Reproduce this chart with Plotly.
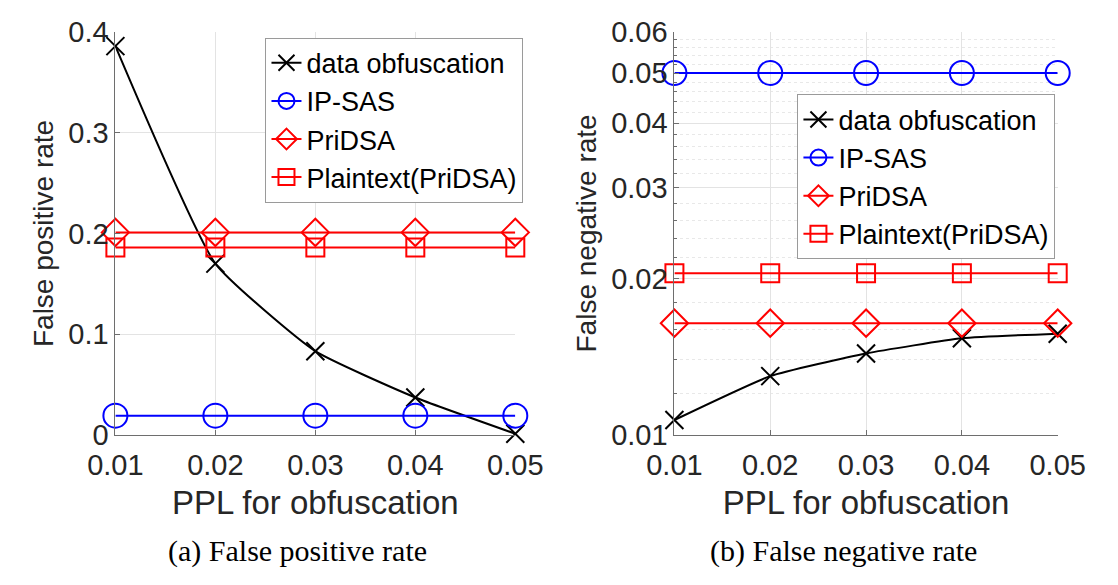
import math
import plotly.graph_objects as go

# PPL values used for obfuscation (shared x axis)
ppl = [0.01, 0.02, 0.03, 0.04, 0.05]
ppl_labels = ["0.01", "0.02", "0.03", "0.04", "0.05"]

# (a) false positive rate
fpr_obfuscation = [0.386, 0.170, 0.083, 0.037, 0.001]
fpr_ipsas = [0.019, 0.019, 0.019, 0.019, 0.019]
fpr_pridsa = [0.201, 0.201, 0.201, 0.201, 0.201]
fpr_plaintext = [0.186, 0.186, 0.186, 0.186, 0.186]
fpr_ticks = [0, 0.1, 0.2, 0.3, 0.4]
fpr_tick_labels = ["0", "0.1", "0.2", "0.3", "0.4"]

# (b) false negative rate
fnr_obfuscation = [0.01068, 0.01298, 0.01436, 0.01536, 0.01568]
fnr_ipsas = [0.050, 0.050, 0.050, 0.050, 0.050]
fnr_pridsa = [0.01643, 0.01643, 0.01643, 0.01643, 0.01643]
fnr_plaintext = [0.02052, 0.02052, 0.02052, 0.02052, 0.02052]
fnr_ticks = [0.01, 0.02, 0.03, 0.04, 0.05, 0.06]
fnr_tick_labels = ["0.01", "0.02", "0.03", "0.04", "0.05", "0.06"]
fnr_minor = [0.012, 0.014, 0.016, 0.018,
             0.022, 0.024, 0.026, 0.028,
             0.032, 0.034, 0.036, 0.038,
             0.042, 0.044, 0.046, 0.048,
             0.052, 0.054, 0.056, 0.058]

series_names = ["data obfuscation", "IP-SAS", "PriDSA", "Plaintext(PriDSA)"]

W, H = 1118, 585
SANS = "Liberation Sans, Arial, sans-serif"
SERIF = "Liberation Serif, Times New Roman, serif"

styles = [
    dict(color="#000000", symbol="x-thin-open", size=18, shape="spline"),
    dict(color="#0000ff", symbol="circle-open", size=24, shape="linear"),
    dict(color="#ff0000", symbol="diamond-open", size=21, shape="linear"),
    dict(color="#ff0000", symbol="square-open", size=18, shape="linear"),
]

fig = go.Figure()


def add_panel(values, xa, ya, legend):
    for name, y, st in zip(series_names, values, styles):
        fig.add_trace(go.Scatter(
            x=ppl, y=y, name=name, mode="lines+markers",
            xaxis=xa, yaxis=ya, legend=legend,
            line=dict(color=st["color"], width=2, shape=st["shape"], smoothing=0.45),
            marker=dict(symbol=st["symbol"], size=st["size"],
                        color=st["color"], line=dict(color=st["color"], width=2)),
            cliponaxis=False,
        ))


add_panel([fpr_obfuscation, fpr_ipsas, fpr_pridsa, fpr_plaintext], "x", "y", "legend")
add_panel([fnr_obfuscation, fnr_ipsas, fnr_pridsa, fnr_plaintext], "x2", "y2", "legend2")

GRID = "#e3e3e3"
AXIS = "#6e6e6e"
TXT = "#262626"

xaxis_common = dict(
    range=[0.01, 0.05], tickmode="array", tickvals=ppl, ticktext=ppl_labels,
    showgrid=True, gridcolor=GRID, gridwidth=1, zeroline=False,
    showline=True, linecolor=AXIS, linewidth=1,
    ticks="inside", ticklen=5, tickcolor=AXIS, ticklabelstandoff=4,
    tickfont=dict(family=SANS, size=29, color=TXT),
    title=dict(text="PPL for obfuscation", font=dict(family=SANS, size=33, color=TXT), standoff=11),
)

yaxis_common = dict(
    domain=[1 - 443 / H, 1 - 17 / H],
    showgrid=True, gridcolor=GRID, zeroline=False,
    showline=True, linecolor=AXIS, linewidth=1,
    ticks="inside", ticklen=5, tickcolor=AXIS,
    tickfont=dict(family=SANS, size=29, color=TXT),
)

legend_common = dict(
    bgcolor="#ffffff", bordercolor="#9a9a9a", borderwidth=1,
    font=dict(family=SANS, size=27, color="#000000"),
    xanchor="left", yanchor="top", tracegroupgap=0, itemwidth=30,
)

fig.update_layout(
    width=W, height=H,
    margin=dict(l=0, r=0, t=0, b=0),
    paper_bgcolor="#ffffff", plot_bgcolor="#ffffff",
    showlegend=True,
    xaxis=dict(domain=[92 / W, 513 / W], anchor="y", **xaxis_common),
    xaxis2=dict(domain=[680.5 / W, 1084 / W], anchor="y2", **xaxis_common),
    yaxis=dict(
        anchor="x", range=[0, 0.4],
        tickmode="array", tickvals=fpr_ticks, ticktext=fpr_tick_labels,
        title=dict(text="False positive rate", font=dict(family=SANS, size=28, color=TXT), standoff=6),
        **yaxis_common,
    ),
    yaxis2=dict(
        anchor="x2", type="log",
        range=[math.log10(fnr_ticks[0]), math.log10(fnr_ticks[-1])],
        tickmode="array", tickvals=fnr_ticks, ticktext=fnr_tick_labels,
        minor=dict(tickmode="array", tickvals=fnr_minor, showgrid=True,
                   gridcolor="#e8e8e8", griddash="dot", gridwidth=1,
                   ticks="inside", ticklen=3, tickcolor=AXIS),
        title=dict(text="False negative rate", font=dict(family=SANS, size=28, color=TXT), standoff=6),
        **yaxis_common,
    ),
    legend=dict(x=250 / W, y=1 - 23 / H, **legend_common),
    legend2=dict(x=810 / W, y=1 - 83 / H, **legend_common),
    annotations=[
        dict(text="(a) False positive rate", x=284 / W, y=1 - 566 / H,
             xref="paper", yref="paper", xanchor="center", yanchor="middle",
             showarrow=False, font=dict(family=SERIF, size=30, color="#000000")),
        dict(text="(b) False negative rate", x=859 / W, y=1 - 566 / H,
             xref="paper", yref="paper", xanchor="center", yanchor="middle",
             showarrow=False, font=dict(family=SERIF, size=30, color="#000000")),
    ],
)

fig.write_html("out.html")
